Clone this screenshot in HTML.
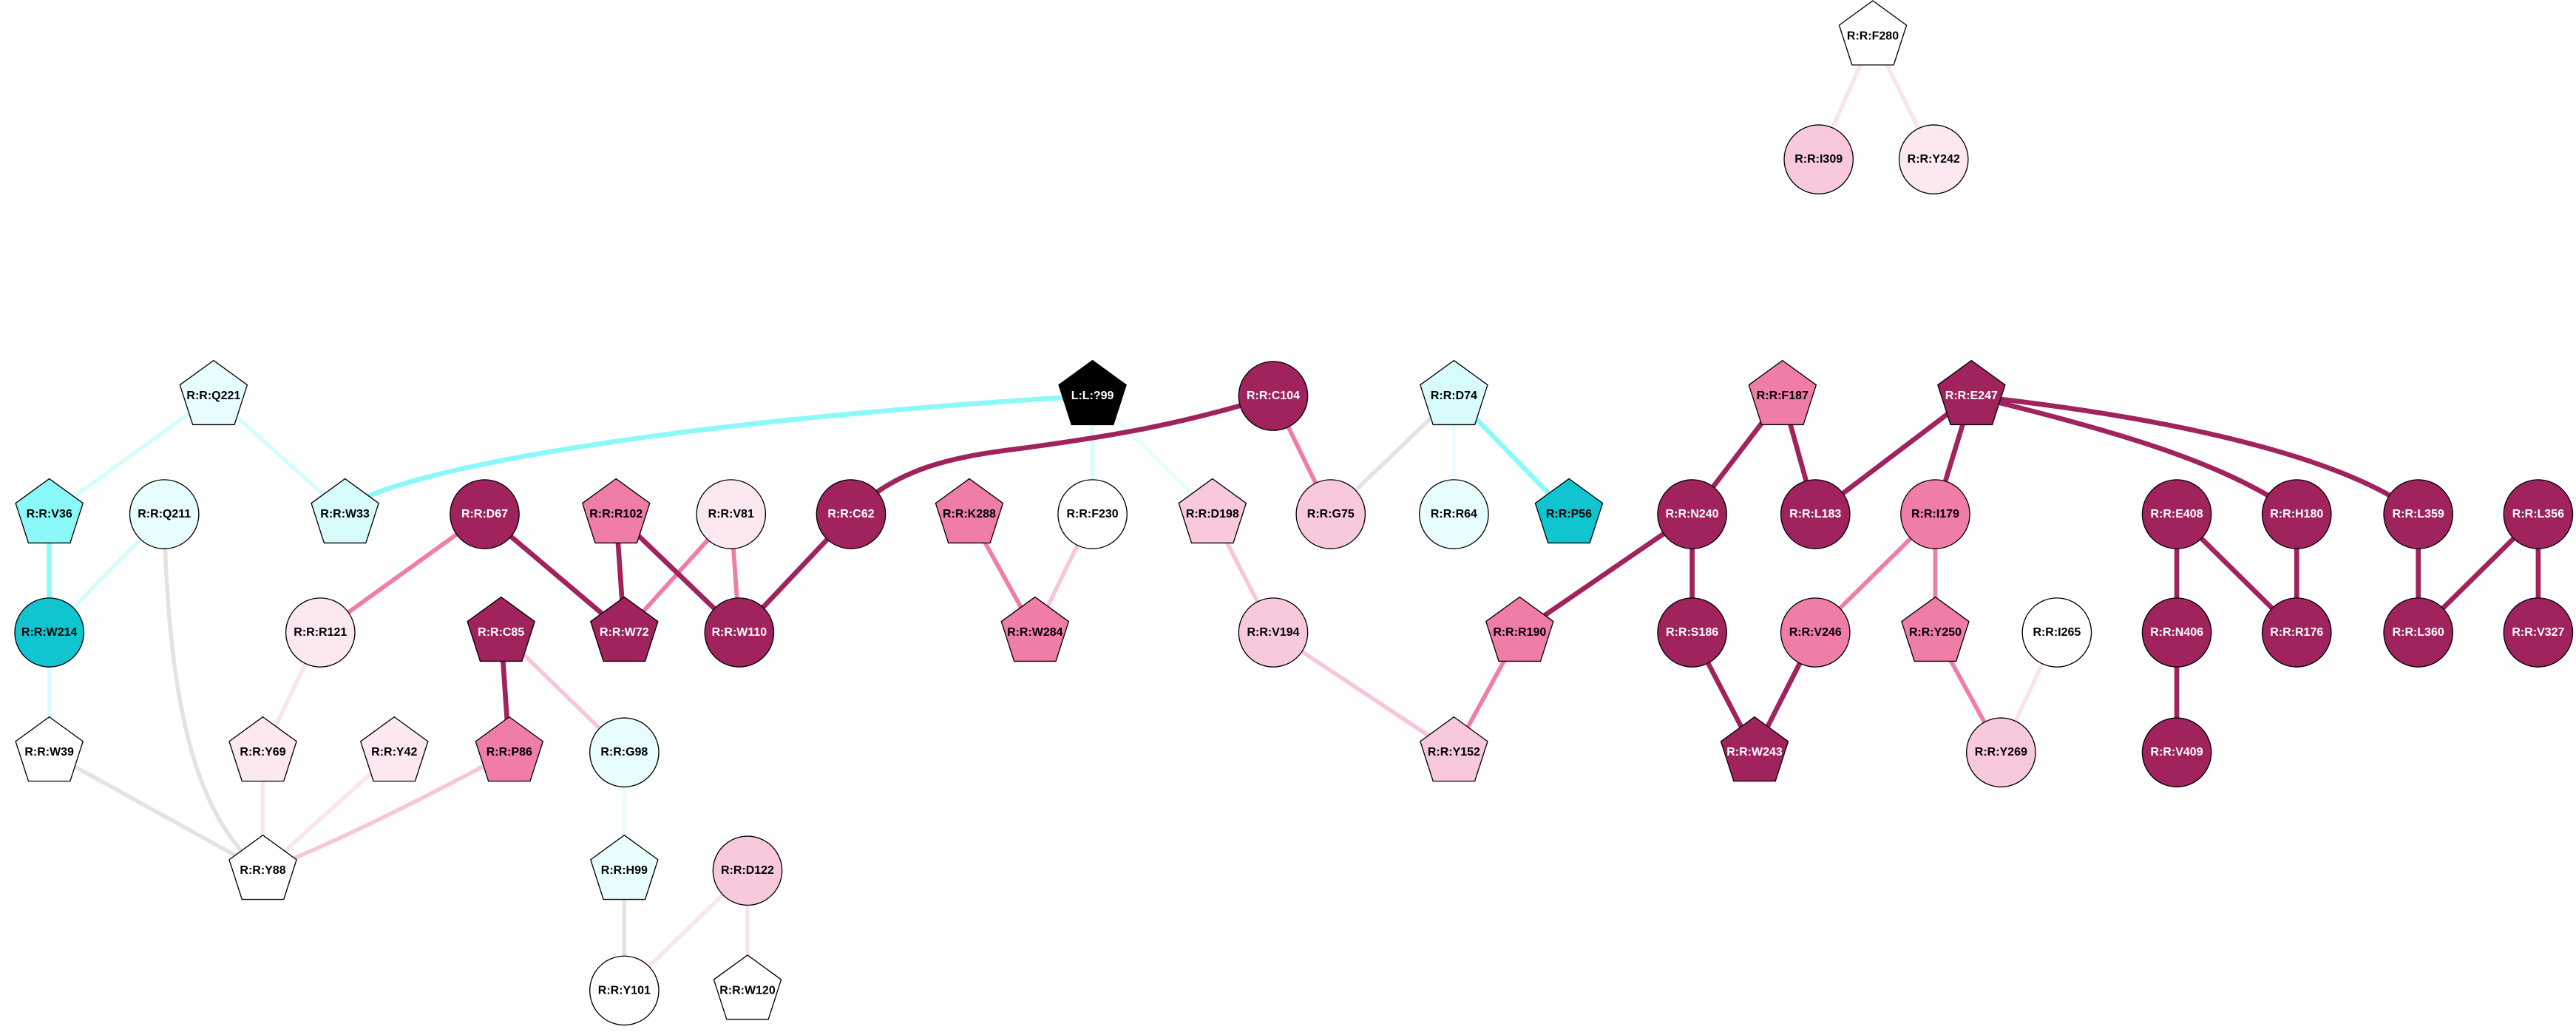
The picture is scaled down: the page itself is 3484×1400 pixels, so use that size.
<!DOCTYPE html>
<html><head><meta charset="utf-8"><style>
html,body{margin:0;padding:0;background:#fff;}
svg{display:block;}
text{font-family:"Liberation Sans",sans-serif;font-weight:bold;font-size:7.2px;text-anchor:middle;dominant-baseline:central;}
</style></head><body>
<svg width="3484" height="1400" viewBox="0 0 1568 630" xmlns="http://www.w3.org/2000/svg">
<g fill="none" stroke-linecap="butt">
<g stroke="#8cf9f9" stroke-width="3">
<path d="M210,310 C240,285 420,255 665,241"/>
<line x1="30" y1="313" x2="30" y2="385"/>
<line x1="885" y1="241" x2="955" y2="313"/>
</g>
<g stroke="#d6fdfd" stroke-width="2.5">
<line x1="130" y1="241" x2="30" y2="313"/>
<line x1="130" y1="241" x2="210" y2="313"/>
<line x1="100" y1="313" x2="30" y2="385"/>
<line x1="30" y1="385" x2="30" y2="458"/>
<line x1="665" y1="241" x2="665" y2="313"/>
</g>
<g stroke="#e8fefe" stroke-width="2.5">
<line x1="665" y1="241" x2="738" y2="313"/>
<line x1="885" y1="241" x2="885" y2="313"/>
<line x1="380" y1="458" x2="380" y2="530"/>
</g>
<g stroke="#e3e3e3" stroke-width="2.5">
<path d="M100,313 C102,430 120,500 160,530"/>
<line x1="30" y1="458" x2="160" y2="530"/>
<line x1="885" y1="241" x2="810" y2="313"/>
<line x1="380" y1="530" x2="380" y2="603"/>
</g>
<g stroke="#fae4ee" stroke-width="2.5">
<line x1="195" y1="385" x2="160" y2="458"/>
<line x1="160" y1="458" x2="160" y2="530"/>
<line x1="240" y1="458" x2="160" y2="530"/>
<line x1="455" y1="530" x2="380" y2="603"/>
<line x1="455" y1="530" x2="455" y2="603"/>
<line x1="1252" y1="385" x2="1218" y2="458"/>
<line x1="1140" y1="22" x2="1107" y2="97"/>
<line x1="1140" y1="22" x2="1177" y2="97"/>
</g>
<g stroke="#f8c6dc" stroke-width="2.5">
<line x1="305" y1="385" x2="380" y2="458"/>
<path d="M310,458 C260,485 200,515 160,530"/>
<line x1="665" y1="313" x2="630" y2="385"/>
<line x1="738" y1="313" x2="775" y2="385"/>
<line x1="775" y1="385" x2="885" y2="458"/>
</g>
<g stroke="#f07ca8" stroke-width="2.6">
<line x1="295" y1="313" x2="195" y2="385"/>
<line x1="445" y1="313" x2="380" y2="385"/>
<line x1="445" y1="313" x2="450" y2="385"/>
<line x1="775" y1="241" x2="810" y2="313"/>
<line x1="590" y1="313" x2="630" y2="385"/>
<line x1="925" y1="385" x2="885" y2="458"/>
<line x1="1178" y1="313" x2="1105" y2="385"/>
<line x1="1178" y1="313" x2="1178" y2="385"/>
<line x1="1178" y1="385" x2="1218" y2="458"/>
</g>
<g stroke="#a0235e" stroke-width="3">
<line x1="295" y1="313" x2="380" y2="385"/>
<line x1="375" y1="313" x2="380" y2="385"/>
<line x1="375" y1="313" x2="450" y2="385"/>
<line x1="518" y1="313" x2="450" y2="385"/>
<path d="M518,313 C545,285 580,278 621,273 C680,265 720,258 775,241"/>
<line x1="305" y1="385" x2="310" y2="458"/>
<line x1="1030" y1="313" x2="925" y2="385"/>
<line x1="1030" y1="313" x2="1030" y2="385"/>
<line x1="1085" y1="241" x2="1030" y2="313"/>
<line x1="1085" y1="241" x2="1105" y2="313"/>
<line x1="1200" y1="241" x2="1105" y2="313"/>
<line x1="1200" y1="241" x2="1178" y2="313"/>
<path d="M1200,241 C1300,265 1360,285 1398,313"/>
<path d="M1200,241 C1330,255 1430,280 1472,313"/>
<line x1="1030" y1="385" x2="1068" y2="458"/>
<line x1="1105" y1="385" x2="1068" y2="458"/>
<line x1="1325" y1="313" x2="1325" y2="385"/>
<line x1="1325" y1="313" x2="1398" y2="385"/>
<line x1="1398" y1="313" x2="1398" y2="385"/>
<line x1="1472" y1="313" x2="1472" y2="385"/>
<line x1="1545" y1="313" x2="1472" y2="385"/>
<line x1="1545" y1="313" x2="1545" y2="385"/>
<line x1="1325" y1="385" x2="1325" y2="458"/>
</g>
</g>
<defs>
<path id="pg" d="M0,-21.6 L20.5,-6.7 L12.7,17.5 L-12.7,17.5 L-20.5,-6.7 Z"/>
</defs>
<g stroke="#000" stroke-width="0.6">
<use href="#pg" x="1140" y="22" fill="#ffffff"/>
<use href="#pg" x="130" y="241" fill="#e8fefe"/>
<use href="#pg" x="665" y="241" fill="#000000"/>
<use href="#pg" x="885" y="241" fill="#d8fcfc"/>
<use href="#pg" x="1085" y="241" fill="#f07ca8"/>
<use href="#pg" x="1200" y="241" fill="#a0235e"/>
<use href="#pg" x="30" y="313" fill="#8cf9f9"/>
<use href="#pg" x="210" y="313" fill="#d8fcfc"/>
<use href="#pg" x="375" y="313" fill="#f07ca8"/>
<use href="#pg" x="590" y="313" fill="#f07ca8"/>
<use href="#pg" x="738" y="313" fill="#f8c8dc"/>
<use href="#pg" x="955" y="313" fill="#10c4d0"/>
<use href="#pg" x="305" y="385" fill="#a0235e"/>
<use href="#pg" x="380" y="385" fill="#a0235e"/>
<use href="#pg" x="630" y="385" fill="#f07ca8"/>
<use href="#pg" x="925" y="385" fill="#f07ca8"/>
<use href="#pg" x="1178" y="385" fill="#f07ca8"/>
<use href="#pg" x="30" y="458" fill="#ffffff"/>
<use href="#pg" x="160" y="458" fill="#fbe8f0"/>
<use href="#pg" x="240" y="458" fill="#fbe8f0"/>
<use href="#pg" x="310" y="458" fill="#f07ca8"/>
<use href="#pg" x="885" y="458" fill="#f8c8dc"/>
<use href="#pg" x="1068" y="458" fill="#a0235e"/>
<use href="#pg" x="160" y="530" fill="#ffffff"/>
<use href="#pg" x="380" y="530" fill="#e8fefe"/>
<use href="#pg" x="455" y="603" fill="#ffffff"/>
<circle cx="1107" cy="97" r="21" fill="#f8c8dc"/>
<circle cx="1177" cy="97" r="21" fill="#fbe8f0"/>
<circle cx="775" cy="241" r="21" fill="#a0235e"/>
<circle cx="100" cy="313" r="21" fill="#e8fefe"/>
<circle cx="295" cy="313" r="21" fill="#a0235e"/>
<circle cx="445" cy="313" r="21" fill="#fbe8f0"/>
<circle cx="518" cy="313" r="21" fill="#a0235e"/>
<circle cx="665" cy="313" r="21" fill="#ffffff"/>
<circle cx="810" cy="313" r="21" fill="#f8c8dc"/>
<circle cx="885" cy="313" r="21" fill="#e8fefe"/>
<circle cx="1030" cy="313" r="21" fill="#a0235e"/>
<circle cx="1105" cy="313" r="21" fill="#a0235e"/>
<circle cx="1178" cy="313" r="21" fill="#f07ca8"/>
<circle cx="1325" cy="313" r="21" fill="#a0235e"/>
<circle cx="1398" cy="313" r="21" fill="#a0235e"/>
<circle cx="1472" cy="313" r="21" fill="#a0235e"/>
<circle cx="1545" cy="313" r="21" fill="#a0235e"/>
<circle cx="30" cy="385" r="21" fill="#10c4d0"/>
<circle cx="195" cy="385" r="21" fill="#fbe8f0"/>
<circle cx="450" cy="385" r="21" fill="#a0235e"/>
<circle cx="775" cy="385" r="21" fill="#f8c8dc"/>
<circle cx="1030" cy="385" r="21" fill="#a0235e"/>
<circle cx="1105" cy="385" r="21" fill="#f07ca8"/>
<circle cx="1252" cy="385" r="21" fill="#ffffff"/>
<circle cx="1325" cy="385" r="21" fill="#a0235e"/>
<circle cx="1398" cy="385" r="21" fill="#a0235e"/>
<circle cx="1472" cy="385" r="21" fill="#a0235e"/>
<circle cx="1545" cy="385" r="21" fill="#a0235e"/>
<circle cx="380" cy="458" r="21" fill="#e8fefe"/>
<circle cx="1218" cy="458" r="21" fill="#f8c8dc"/>
<circle cx="1325" cy="458" r="21" fill="#a0235e"/>
<circle cx="455" cy="530" r="21" fill="#f8c8dc"/>
<circle cx="380" cy="603" r="21" fill="#ffffff"/>
</g>
<g fill="#000">
<text x="1140" y="22">R:R:F280</text>
<text x="1107" y="97">R:R:I309</text>
<text x="1177" y="97">R:R:Y242</text>
<text x="130" y="241">R:R:Q221</text>
<text x="885" y="241">R:R:D74</text>
<text x="1085" y="241">R:R:F187</text>
<text x="30" y="313">R:R:V36</text>
<text x="100" y="313">R:R:Q211</text>
<text x="210" y="313">R:R:W33</text>
<text x="375" y="313">R:R:R102</text>
<text x="445" y="313">R:R:V81</text>
<text x="590" y="313">R:R:K288</text>
<text x="665" y="313">R:R:F230</text>
<text x="738" y="313">R:R:D198</text>
<text x="810" y="313">R:R:G75</text>
<text x="885" y="313">R:R:R64</text>
<text x="955" y="313">R:R:P56</text>
<text x="1178" y="313">R:R:I179</text>
<text x="30" y="385">R:R:W214</text>
<text x="195" y="385">R:R:R121</text>
<text x="630" y="385">R:R:W284</text>
<text x="775" y="385">R:R:V194</text>
<text x="925" y="385">R:R:R190</text>
<text x="1105" y="385">R:R:V246</text>
<text x="1178" y="385">R:R:Y250</text>
<text x="1252" y="385">R:R:I265</text>
<text x="30" y="458">R:R:W39</text>
<text x="160" y="458">R:R:Y69</text>
<text x="240" y="458">R:R:Y42</text>
<text x="310" y="458">R:R:P86</text>
<text x="380" y="458">R:R:G98</text>
<text x="885" y="458">R:R:Y152</text>
<text x="1218" y="458">R:R:Y269</text>
<text x="160" y="530">R:R:Y88</text>
<text x="380" y="530">R:R:H99</text>
<text x="455" y="530">R:R:D122</text>
<text x="380" y="603">R:R:Y101</text>
<text x="455" y="603">R:R:W120</text>
</g>
<g fill="#fff">
<text x="665" y="241">L:L:?99</text>
<text x="775" y="241">R:R:C104</text>
<text x="1200" y="241">R:R:E247</text>
<text x="295" y="313">R:R:D67</text>
<text x="518" y="313">R:R:C62</text>
<text x="1030" y="313">R:R:N240</text>
<text x="1105" y="313">R:R:L183</text>
<text x="1325" y="313">R:R:E408</text>
<text x="1398" y="313">R:R:H180</text>
<text x="1472" y="313">R:R:L359</text>
<text x="1545" y="313">R:R:L356</text>
<text x="305" y="385">R:R:C85</text>
<text x="380" y="385">R:R:W72</text>
<text x="450" y="385">R:R:W110</text>
<text x="1030" y="385">R:R:S186</text>
<text x="1325" y="385">R:R:N406</text>
<text x="1398" y="385">R:R:R176</text>
<text x="1472" y="385">R:R:L360</text>
<text x="1545" y="385">R:R:V327</text>
<text x="1068" y="458">R:R:W243</text>
<text x="1325" y="458">R:R:V409</text>
</g>
</svg>
</body></html>
